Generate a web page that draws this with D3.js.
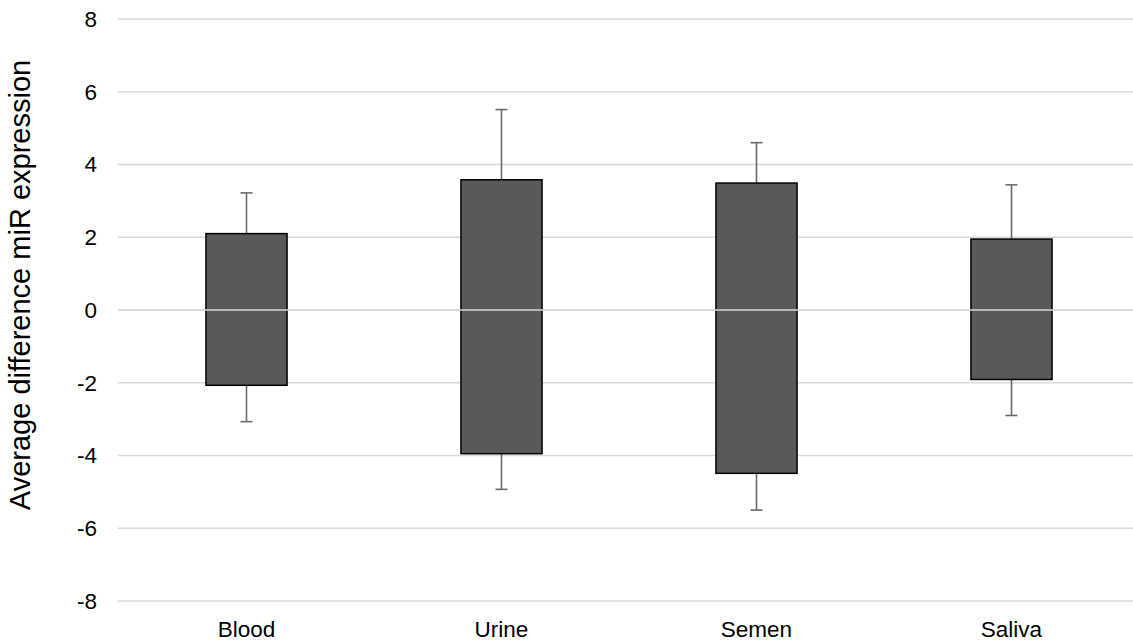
<!DOCTYPE html>
<html>
<head>
<meta charset="utf-8">
<script src="https://cdn.jsdelivr.net/npm/d3@7"></script>
<style>
  html, body { margin: 0; padding: 0; background: #fff; }
  svg { display: block; font-family: "Liberation Sans", Arial, sans-serif; }
</style>
</head>
<body>
<svg id="chart"></svg>
<script>
// Chart data
const categories = ['Blood', 'Urine', 'Semen', 'Saliva'];
const boxTop = [2.1, 3.58, 3.49, 1.95];
const boxBottom = [-2.07, -3.95, -4.49, -1.91];
const whiskerTop = [3.22, 5.51, 4.6, 3.44];
const whiskerBottom = [-3.07, -4.93, -5.5, -2.9];
const yTicks = [-8, -6, -4, -2, 0, 2, 4, 6, 8];

const width = 1133;
const height = 644;
const margin = { top: 19, right: -6, bottom: 43, left: 119 };

const svg = d3.select('#chart')
    .attr('width', width)
    .attr('height', height);

const x = d3.scaleBand()
    .domain(categories)
    .range([margin.left, width - margin.right])
    .paddingInner(0.682)
    .paddingOuter(0.341);

const y = d3.scaleLinear()
    .domain([-8, 8])
    .range([height - margin.bottom, margin.top]);

// Gridlines
svg.append('g')
    .attr('class', 'grid')
    .selectAll('line')
    .data(yTicks)
    .join('line')
    .attr('x1', margin.left - 1)
    .attr('x2', width)
    .attr('y1', d => y(d))
    .attr('y2', d => y(d))
    .attr('stroke', '#d9d9d9')
    .attr('stroke-width', 1.3);

// Y tick labels
svg.append('g')
    .selectAll('text')
    .data(yTicks)
    .join('text')
    .attr('x', 97)
    .attr('y', d => y(d))
    .attr('dy', '0.35em')
    .attr('text-anchor', 'end')
    .attr('font-size', 22.5)
    .attr('fill', '#000')
    .text(d => d);

// Error bars
const rows = categories.map((c, i) => ({
    name: c,
    top: boxTop[i],
    bottom: boxBottom[i],
    hi: whiskerTop[i],
    lo: whiskerBottom[i]
}));

const cap = 6;
const err = svg.append('g')
    .attr('stroke', '#6b6b6b')
    .attr('stroke-width', 1.6);

rows.forEach(d => {
    const cx = x(d.name) + x.bandwidth() / 2;
    err.append('line')
        .attr('x1', cx).attr('x2', cx)
        .attr('y1', y(d.hi)).attr('y2', y(d.top));
    err.append('line')
        .attr('x1', cx - cap).attr('x2', cx + cap)
        .attr('y1', y(d.hi)).attr('y2', y(d.hi));
    err.append('line')
        .attr('x1', cx).attr('x2', cx)
        .attr('y1', y(d.bottom)).attr('y2', y(d.lo));
    err.append('line')
        .attr('x1', cx - cap).attr('x2', cx + cap)
        .attr('y1', y(d.lo)).attr('y2', y(d.lo));
});

// Bars
svg.append('g')
    .selectAll('rect')
    .data(rows)
    .join('rect')
    .attr('x', d => x(d.name))
    .attr('y', d => y(d.top))
    .attr('width', x.bandwidth())
    .attr('height', d => y(d.bottom) - y(d.top))
    .attr('fill', '#595959')
    .attr('stroke', '#000')
    .attr('stroke-width', 1.5);

// Zero (category axis) line drawn across the bars
svg.append('line')
    .attr('x1', margin.left - 1)
    .attr('x2', width)
    .attr('y1', y(0))
    .attr('y2', y(0))
    .attr('stroke', '#d9d9d9')
    .attr('stroke-width', 1.3);

// Category labels
svg.append('g')
    .selectAll('text')
    .data(categories)
    .join('text')
    .attr('x', d => x(d) + x.bandwidth() / 2)
    .attr('y', 637)
    .attr('text-anchor', 'middle')
    .attr('font-size', 22.5)
    .attr('fill', '#000')
    .text(d => d);

// Y axis title
svg.append('text')
    .attr('transform', `translate(30,${(y(8) + y(-8)) / 2 - 25}) rotate(-90)`)
    .attr('text-anchor', 'middle')
    .attr('font-size', 29)
    .attr('fill', '#000')
    .text('Average difference miR expression');
</script>
</body>
</html>
